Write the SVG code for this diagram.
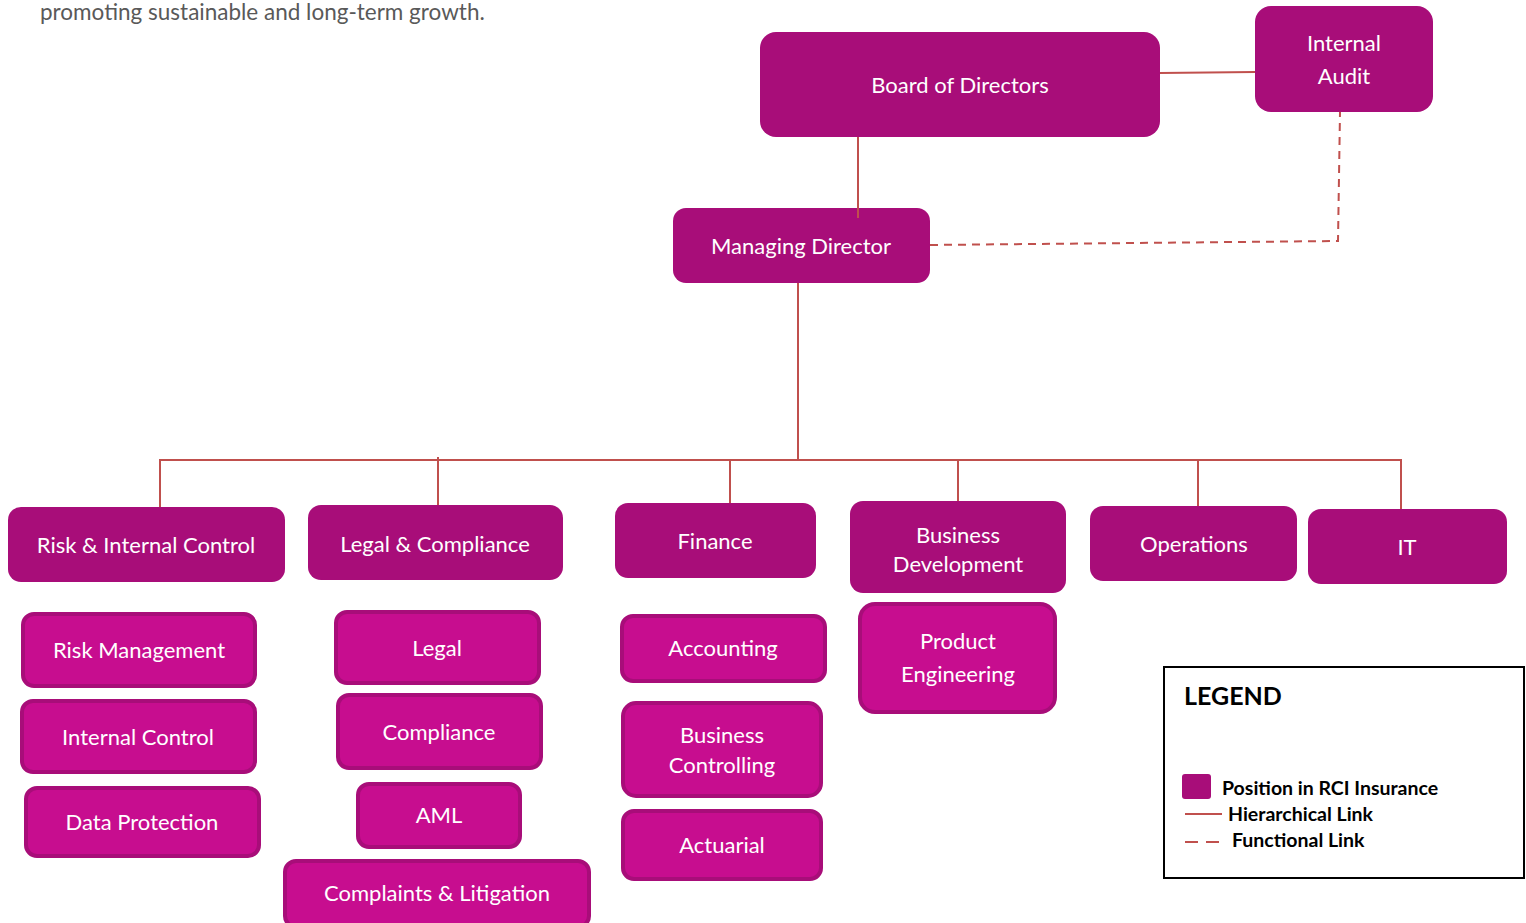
<svg xmlns="http://www.w3.org/2000/svg" width="1526" height="923" viewBox="0 0 1526 923">
  <style>
    .main { fill: #A80D79; }
    .sub { fill: #C70D8F; stroke: #A80D79; stroke-width: 4; }
    .lbl { font-family: Lato, "Liberation Sans", sans-serif; font-size: 22px; fill: #FFFFFF; text-anchor: middle; }
    .link { stroke: #C0504D; stroke-width: 2; fill: none; }
    .dash { stroke: #C0504D; stroke-width: 2; fill: none; stroke-dasharray: 8 6; }
    .leg { font-family: Lato, "Liberation Sans", sans-serif; font-weight: bold; font-size: 19.5px; fill: #000000; }
  </style>
  <rect width="1526" height="923" fill="#FFFFFF"/>

  <text x="40" y="20" font-family="Lato, 'Liberation Sans', sans-serif" font-size="22.5" fill="#595959">promoting sustainable and long-term growth.</text>

  <!-- top level -->
  <g id="board">
    <rect class="main" x="760" y="32" width="400" height="105" rx="16"/>
    <text class="lbl" x="960" y="93">Board of Directors</text>
  </g>
  <g id="internal-audit">
    <rect class="main" x="1255" y="6" width="178" height="106" rx="16"/>
    <text class="lbl" x="1344" y="51">Internal</text>
    <text class="lbl" x="1344" y="84">Audit</text>
  </g>
  <g id="managing-director">
    <rect class="main" x="673" y="208" width="257" height="75" rx="13"/>
    <text class="lbl" x="801" y="254">Managing Director</text>
  </g>

  <!-- departments -->
  <g id="risk-internal-control">
    <rect class="main" x="8" y="507" width="277" height="75" rx="13"/>
    <text class="lbl" x="146" y="553">Risk &amp; Internal Control</text>
  </g>
  <g id="legal-compliance">
    <rect class="main" x="308" y="505" width="255" height="75" rx="13"/>
    <text class="lbl" x="435" y="552">Legal &amp; Compliance</text>
  </g>
  <g id="finance">
    <rect class="main" x="615" y="503" width="201" height="75" rx="13"/>
    <text class="lbl" x="715" y="549">Finance</text>
  </g>
  <g id="business-development">
    <rect class="main" x="850" y="501" width="216" height="92" rx="13"/>
    <text class="lbl" x="958" y="543">Business</text>
    <text class="lbl" x="958" y="572">Development</text>
  </g>
  <g id="operations">
    <rect class="main" x="1090" y="506" width="207" height="75" rx="13"/>
    <text class="lbl" x="1194" y="552">Operations</text>
  </g>
  <g id="it">
    <rect class="main" x="1308" y="509" width="199" height="75" rx="13"/>
    <text class="lbl" x="1407" y="555">IT</text>
  </g>

  <!-- sub-units -->
  <g id="risk-management">
    <rect class="sub" x="23" y="614" width="232" height="72" rx="11"/>
    <text class="lbl" x="139" y="658">Risk Management</text>
  </g>
  <g id="internal-control">
    <rect class="sub" x="22" y="701" width="233" height="71" rx="11"/>
    <text class="lbl" x="138" y="745">Internal Control</text>
  </g>
  <g id="data-protection">
    <rect class="sub" x="26" y="788" width="233" height="68" rx="11"/>
    <text class="lbl" x="142" y="830">Data Protection</text>
  </g>
  <g id="legal">
    <rect class="sub" x="336" y="612" width="203" height="71" rx="11"/>
    <text class="lbl" x="437" y="656">Legal</text>
  </g>
  <g id="compliance">
    <rect class="sub" x="338" y="695" width="203" height="73" rx="11"/>
    <text class="lbl" x="439" y="740">Compliance</text>
  </g>
  <g id="aml">
    <rect class="sub" x="358" y="784" width="162" height="63" rx="11"/>
    <text class="lbl" x="439" y="823">AML</text>
  </g>
  <g id="complaints-litigation">
    <rect class="sub" x="285" y="861" width="304" height="66" rx="11"/>
    <text class="lbl" x="437" y="901">Complaints &amp; Litigation</text>
  </g>
  <g id="accounting">
    <rect class="sub" x="622" y="616" width="203" height="65" rx="11"/>
    <text class="lbl" x="723" y="656">Accounting</text>
  </g>
  <g id="business-controlling">
    <rect class="sub" x="623" y="703" width="198" height="93" rx="13"/>
    <text class="lbl" x="722" y="743">Business</text>
    <text class="lbl" x="722" y="773">Controlling</text>
  </g>
  <g id="actuarial">
    <rect class="sub" x="623" y="811" width="198" height="68" rx="11"/>
    <text class="lbl" x="722" y="853">Actuarial</text>
  </g>
  <g id="product-engineering">
    <rect class="sub" x="860" y="604" width="195" height="108" rx="15"/>
    <text class="lbl" x="958" y="649">Product</text>
    <text class="lbl" x="958" y="682">Engineering</text>
  </g>

  <!-- connectors -->
  <g id="connectors">
    <line class="link" x1="1160" y1="73" x2="1255" y2="72"/>
    <line class="link" x1="858" y1="137" x2="858" y2="218"/>
    <line class="link" x1="798" y1="283" x2="798" y2="461"/>
    <polyline class="link" points="160,507 160,460 1401,460 1401,509"/>
    <line class="link" x1="438" y1="457" x2="438" y2="505"/>
    <line class="link" x1="730" y1="460" x2="730" y2="503"/>
    <line class="link" x1="958" y1="460" x2="958" y2="501"/>
    <line class="link" x1="1198" y1="460" x2="1198" y2="506"/>
    <polyline class="dash" points="930,245 1338,241 1340,112"/>
  </g>

  <!-- legend -->
  <g id="legend">
    <rect x="1164" y="667" width="360" height="211" fill="#FFFFFF" stroke="#000000" stroke-width="2"/>
    <text x="1184" y="705" font-family="Lato, 'Liberation Sans', sans-serif" font-weight="bold" font-size="25" fill="#000000">LEGEND</text>
    <rect x="1182" y="774" width="29" height="25" rx="3" fill="#A80D79"/>
    <text class="leg" x="1222" y="795">Position in RCI Insurance</text>
    <line class="link" x1="1185" y1="814" x2="1222" y2="814"/>
    <text class="leg" x="1228" y="821">Hierarchical Link</text>
    <line class="link" x1="1185" y1="842" x2="1222" y2="842" stroke-dasharray="13 8"/>
    <text class="leg" x="1232" y="847">Functional Link</text>
  </g>
</svg>
